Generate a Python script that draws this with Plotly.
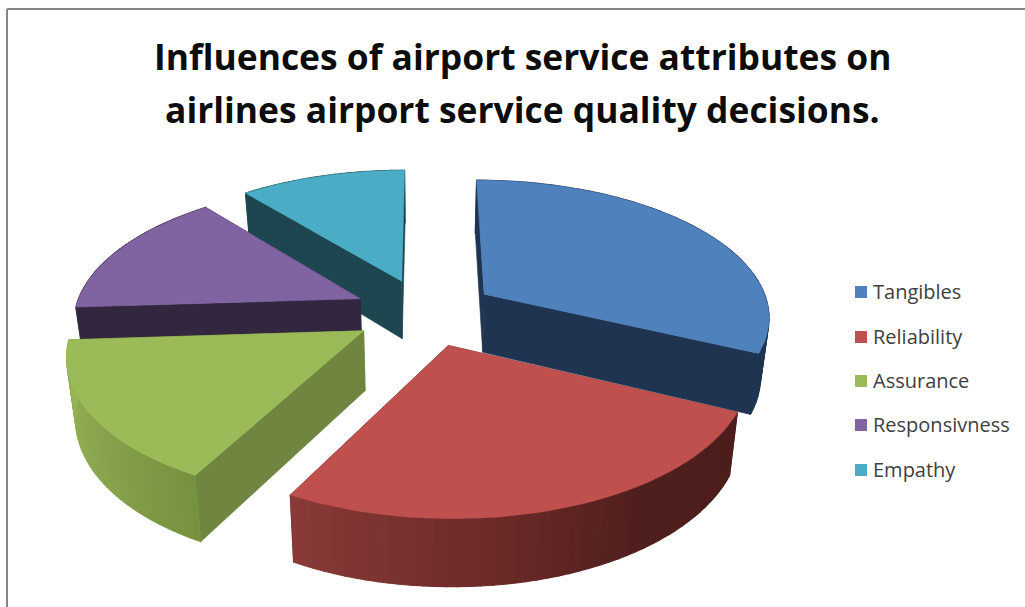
import math
import plotly.graph_objects as go

# Pie data
categories = ["Tangibles", "Reliability", "Assurance", "Responsivness", "Empathy"]
values = [32, 25.8, 16.2, 15, 11]
top_colors = ["#4f81bd", "#c0504d", "#9bbb59", "#8064a2", "#4bacc6"]
cut_colors = ["#1e3450", "#4f1f1d", "#6f8540", "#33273f", "#1d4650"]
# Shading along the rim, from the first to the last angle of each slice
rim_stops = [
    ["#1e3450", "#1e3450"],
    ["#4c1e1c", "#4f1f1d", "#6f2c2a", "#8a3a38"],
    ["#76923f", "#8aa64f", "#98b655"],
    ["#33273f", "#33273f"],
    ["#1d4650", "#1d4650"],
]
title_lines = ["Influences of airport service attributes on",
               "airlines airport service quality decisions."]

# Projection of the pie plane onto the canvas
CX, CY = 425.0, 312.0
SCALE_X, SCALE_Y = 286.0, 136.0
PERSPECTIVE = 0.15
EXPLODE = 0.25
THICKNESS = 59.0
TAPER = 0.025
DRAW_ORDER = [4, 3, 0, 2, 1]


def project(px, py):
    w = 1 - PERSPECTIVE * py
    return CX + SCALE_X * px / w, CY + SCALE_Y * py / w, w


def lowered(px, py):
    x, y, w = project(px, py)
    return CX + (x - CX) * (1 - TAPER), y + THICKNESS / w ** 0.7


def hex_rgb(c):
    return tuple(int(c[i:i + 2], 16) for i in (1, 3, 5))


def ramp(stops, f):
    pos = f * (len(stops) - 1)
    i = min(int(pos), len(stops) - 2)
    t = pos - i
    a, b = hex_rgb(stops[i]), hex_rgb(stops[i + 1])
    return "rgb({},{},{})".format(*(round(a[k] + (b[k] - a[k]) * t) for k in range(3)))


def polygon(xs, ys, color, edge=0.6):
    return go.Scatter(x=xs + xs[:1], y=ys + ys[:1], mode="lines", fill="toself",
                      fillcolor=color, line=dict(color=color, width=edge),
                      hoverinfo="skip", showlegend=False)


fig = go.Figure()
total = sum(values)
starts, acc = [], 0.0
for v in values:
    starts.append(acc)
    acc += v / total * 2 * math.pi

for idx in DRAW_ORDER:
    a0 = starts[idx]
    a1 = a0 + values[idx] / total * 2 * math.pi
    mid = (a0 + a1) / 2
    ox, oy = EXPLODE * math.sin(mid), -EXPLODE * math.cos(mid)
    n = 48
    rim = [(ox + math.sin(a0 + (a1 - a0) * i / n), oy - math.cos(a0 + (a1 - a0) * i / n))
           for i in range(n + 1)]

    # Cut faces running from the centre to each end of the rim
    for end in (rim[0], rim[-1]):
        t0, t1 = project(ox, oy), project(*end)
        b0, b1 = lowered(ox, oy), lowered(*end)
        fig.add_trace(polygon([t0[0], t1[0], b1[0], b0[0]], [t0[1], t1[1], b1[1], b0[1]],
                              cut_colors[idx]))

    # Outer wall, one shaded strip per rim step; a wider edge hides the joins
    for i in range(n):
        p, q = rim[i], rim[i + 1]
        tp, tq, bq, bp = project(*p), project(*q), lowered(*q), lowered(*p)
        fig.add_trace(polygon([tp[0], tq[0], bq[0], bp[0]], [tp[1], tq[1], bq[1], bp[1]],
                              ramp(rim_stops[idx], (i + 0.5) / n), edge=1.2))

    # Top face
    pts = [project(ox, oy)] + [project(*r) for r in rim]
    fig.add_trace(polygon([p[0] for p in pts], [p[1] for p in pts], top_colors[idx]))

# Key on the right: one square and label per category
KEY_SWATCH_X = 861
KEY_TEXT_X = 873
KEY_Y = [292, 337, 381, 425, 470]
fig.add_trace(go.Scatter(
    x=[KEY_SWATCH_X] * len(categories), y=KEY_Y, mode="markers",
    marker=dict(symbol="square", size=12, color=top_colors),
    hoverinfo="skip", showlegend=False))
fig.add_trace(go.Scatter(
    x=[KEY_TEXT_X] * len(categories), y=[v + 2 for v in KEY_Y], mode="text",
    text=categories, textposition="middle right",
    textfont=dict(family="Open Sans", size=20, color="#404040"),
    hoverinfo="skip", showlegend=False))

for line, y in zip(title_lines, (56, 109)):
    fig.add_annotation(x=522, y=y, text="<b>" + line + "</b>", showarrow=False,
                       xanchor="center", yanchor="middle",
                       font=dict(family="Open Sans", size=35.4, color="#0d0d0d"))

# Chart frame: top and left rules only
fig.add_shape(type="line", x0=7, x1=1025, y0=9, y1=9, line=dict(color="#868686", width=2))
fig.add_shape(type="line", x0=7, x1=7, y0=9, y1=607, line=dict(color="#868686", width=2))

fig.update_xaxes(range=[0, 1025], visible=False, fixedrange=True)
fig.update_yaxes(range=[607, 0], visible=False, fixedrange=True)
fig.update_layout(width=1025, height=607, margin=dict(l=0, r=0, t=0, b=0),
                  paper_bgcolor="white", plot_bgcolor="white", showlegend=False)
fig.write_html("out.html", config=dict(displayModeBar=False))
